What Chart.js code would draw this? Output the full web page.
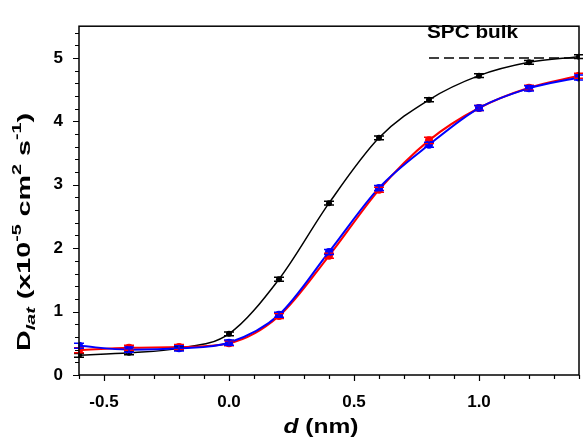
<!DOCTYPE html>
<html>
<head>
<meta charset="utf-8">
<script src="https://cdn.jsdelivr.net/npm/chart.js@4.4.1/dist/chart.umd.min.js"></script>
<style>
  html, body { margin: 0; padding: 0; background: #fff; }
  #wrap { width: 583px; height: 443px; position: relative; }
</style>
</head>
<body>
<div id="wrap"><canvas id="c" width="583" height="443"></canvas></div>
<script>
const xValues = [-0.6, -0.4, -0.2, 0.0, 0.2, 0.4, 0.6, 0.8, 1.0, 1.2, 1.4];
const blackVals = [0.31, 0.35, 0.42, 0.65, 1.51, 2.71, 3.74, 4.34, 4.72, 4.93, 5.02];
const blackErr  = [0.03, 0.03, 0.03, 0.03, 0.03, 0.03, 0.03, 0.03, 0.03, 0.03, 0.03];
const redVals   = [0.39, 0.43, 0.44, 0.50, 0.93, 1.88, 2.92, 3.70, 4.21, 4.53, 4.72];
const redErr    = [0.04, 0.04, 0.04, 0.04, 0.04, 0.04, 0.04, 0.05, 0.04, 0.04, 0.04];
const blueVals  = [0.46, 0.40, 0.42, 0.51, 0.95, 1.94, 2.95, 3.63, 4.21, 4.52, 4.69];
const blueErr   = [0.04, 0.04, 0.04, 0.04, 0.04, 0.04, 0.04, 0.04, 0.04, 0.04, 0.04];
const bulkX = [0.8, 1.4];
const bulkY = [5.0, 5.0];
const xMajorTicks = [-0.5, 0.0, 0.5, 1.0];
const yMajorTicks = [0, 1, 2, 3, 4, 5];

function pts(xs, ys) { return xs.map((x, i) => ({ x: x, y: ys[i] })); }

const errMap = { black: blackErr, red: redErr, blue: blueErr };

const FONT = '"Liberation Sans", Arial, sans-serif';

function drawRich(ctx, parts, scaleW, alignCenter) {
  let total = 0;
  parts.forEach(p => {
    ctx.font = p.style + ' ' + p.size + 'px ' + FONT;
    p.w = ctx.measureText(p.t).width;
    total += p.w;
  });
  const s = scaleW / total;
  ctx.save();
  ctx.scale(s, 1);
  let x = alignCenter ? -total / 2 : 0;
  ctx.textBaseline = 'alphabetic';
  ctx.textAlign = 'left';
  parts.forEach(p => {
    ctx.font = p.style + ' ' + p.size + 'px ' + FONT;
    ctx.fillText(p.t, x, p.dy || 0);
    x += p.w;
  });
  ctx.restore();
}

const decor = {
  id: 'decor',
  afterDatasetsDraw(chart) {
    const ctx = chart.ctx;
    const xs = chart.scales.x, ys = chart.scales.y;
    // error bars
    chart.data.datasets.forEach((ds, di) => {
      const err = errMap[ds.key];
      if (!err) return;
      ctx.save();
      ctx.strokeStyle = ds.borderColor;
      ctx.lineWidth = 1.5;
      ds.data.forEach((p, i) => {
        const px = xs.getPixelForValue(p.x);
        const y1 = ys.getPixelForValue(p.y + err[i]);
        const y2 = ys.getPixelForValue(p.y - err[i]);
        ctx.beginPath();
        ctx.moveTo(px, y1); ctx.lineTo(px, y2);
        ctx.moveTo(px - 5, y1); ctx.lineTo(px + 5, y1);
        ctx.moveTo(px - 5, y2); ctx.lineTo(px + 5, y2);
        ctx.stroke();
      });
      ctx.restore();
    });
  },
  afterDraw(chart) {
    const ctx = chart.ctx;
    const a = chart.chartArea;
    const xs = chart.scales.x, ys = chart.scales.y;
    ctx.save();
    ctx.strokeStyle = '#000';
    ctx.lineWidth = 1.5;
    ctx.strokeRect(a.left, a.top, a.right - a.left, a.bottom - a.top);
    // x ticks
    ctx.lineWidth = 1.2;
    ctx.beginPath();
    for (let k = -6; k <= 14; k++) {
      const v = k / 10;
      const px = Math.round(xs.getPixelForValue(v)) + 0.5;
      const major = (k % 5 === 0);
      ctx.moveTo(px, a.bottom);
      ctx.lineTo(px, a.bottom + (major ? 6 : 4));
    }
    // y ticks
    for (let k = 0; k <= 27; k++) {
      const v = k / 5;
      const py = Math.round(ys.getPixelForValue(v)) + 0.5;
      const major = (k % 5 === 0);
      ctx.moveTo(a.left, py);
      ctx.lineTo(a.left - (major ? 6 : 4), py);
    }
    ctx.stroke();
    ctx.fillStyle = '#000';
    // y title
    ctx.save();
    ctx.translate(30, 232);
    ctx.rotate(-Math.PI / 2);
    drawRich(ctx, [
      { t: 'D', size: 19, style: 'bold' },
      { t: 'lat', size: 13, style: 'italic bold', dy: 5 },
      { t: ' (x10', size: 19, style: 'bold' },
      { t: '-5', size: 13, style: 'bold', dy: -9 },
      { t: ' cm', size: 19, style: 'bold' },
      { t: '2', size: 13, style: 'bold', dy: -9 },
      { t: ' s', size: 19, style: 'bold' },
      { t: '-1', size: 13, style: 'bold', dy: -9 },
      { t: ')', size: 19, style: 'bold' }
    ], 238, true);
    ctx.restore();
    // x title
    ctx.save();
    ctx.translate(321, 433);
    drawRich(ctx, [
      { t: 'd', size: 21, style: 'italic bold' },
      { t: ' (nm)', size: 21, style: 'bold' }
    ], 75, true);
    ctx.restore();
    // SPC bulk
    ctx.save();
    ctx.translate(427, 38);
    drawRich(ctx, [{ t: 'SPC bulk', size: 18, style: 'bold' }], 91, false);
    ctx.restore();
    ctx.restore();
  }
};

new Chart(document.getElementById('c'), {
  type: 'line',
  data: {
    datasets: [
      {
        key: 'bulk', data: pts(bulkX, bulkY), borderColor: '#000', borderWidth: 1.5,
        borderDash: [10, 5], pointRadius: 0, tension: 0, order: 4
      },
      {
        key: 'black', data: pts(xValues, blackVals), borderColor: '#000', backgroundColor: '#000',
        borderWidth: 1.5, pointRadius: 3, pointBorderWidth: 0, cubicInterpolationMode: 'monotone', order: 3
      },
      {
        key: 'red', data: pts(xValues, redVals), borderColor: '#ff0000', backgroundColor: '#ff0000',
        borderWidth: 2, pointRadius: 4, pointBorderWidth: 0, cubicInterpolationMode: 'monotone', order: 2
      },
      {
        key: 'blue', data: pts(xValues, blueVals), borderColor: '#0000ff', backgroundColor: '#0000ff',
        borderWidth: 2, pointRadius: 4, pointBorderWidth: 0, cubicInterpolationMode: 'monotone', order: 1
      }
    ]
  },
  options: {
    responsive: false,
    animation: false,
    events: [],
    layout: { padding: { top: 14, right: 2, left: 0, bottom: 0 } },
    plugins: { legend: { display: false }, tooltip: { enabled: false } },
    scales: {
      x: {
        type: 'linear', min: -0.6, max: 1.4,
        grid: { display: false, drawTicks: false },
        border: { display: false },
        afterFit(s) { s.height = 68; },
        afterBuildTicks(s) { s.ticks = xMajorTicks.map(v => ({ value: v })); },
        ticks: {
          autoSkip: false, maxRotation: 0, padding: 17, color: '#000',
          font: { family: FONT, size: 17, weight: 'bold' },
          callback: v => v.toFixed(1)
        }
      },
      y: {
        type: 'linear', min: 0, max: 5.5,
        grid: { display: false, drawTicks: false },
        border: { display: false },
        afterFit(s) { s.width = 79; },
        afterBuildTicks(s) { s.ticks = yMajorTicks.map(v => ({ value: v })); },
        ticks: {
          autoSkip: false, padding: 16, color: '#000',
          font: { family: FONT, size: 17, weight: 'bold' },
          callback: v => String(v)
        }
      }
    }
  },
  plugins: [decor]
});
</script>
</body>
</html>
